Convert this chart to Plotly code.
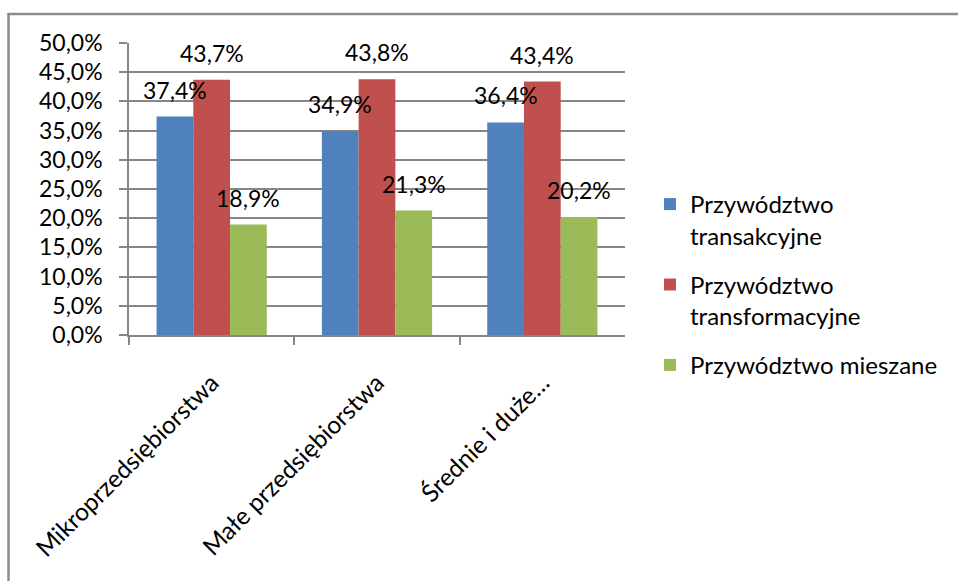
import plotly.graph_objects as go

categories = ["Mikroprzedsiębiorstwa", "Małe przedsiębiorstwa", "Średnie i duże…"]
series_names = [
    "Przywództwo<br>transakcyjne",
    "Przywództwo<br>transformacyjne",
    "Przywództwo mieszane",
]
transakcyjne = [0.374, 0.349, 0.364]
transformacyjne = [0.437, 0.438, 0.434]
mieszane = [0.189, 0.213, 0.202]
colors = ["#4F81BD", "#C0504D", "#9BBB59"]

FONT = "Lato, Carlito, Calibri, sans-serif"
FS = 23
FS_X = 24.5
FS_LEG = 24

# figure size and plot-area box in pixels (left, right, top, bottom edges)
W, H = 958, 581
X0, X1, Y0, Y1 = 129, 625, 43, 335


def fx(p):
    return p / W


def fy(p):
    return 1 - p / H


fig = go.Figure()
all_series = [transakcyjne, transformacyjne, mieszane]
for k, (name, vals, col) in enumerate(zip(series_names, all_series, colors)):
    fig.add_trace(go.Bar(
        x=categories, y=vals, name=name, legendgroup=f"g{k}",
        marker=dict(color=col, line=dict(width=0)),
    ))

# data labels above each bar
cat_w = (X1 - X0) / len(categories)
bargap = 1 / 3
bar_w = cat_w * (1 - bargap) / 3
for i, vals in enumerate(all_series):
    for c, v in zip(categories, vals):
        fig.add_annotation(
            x=c, y=v, xref="x", yref="y",
            text=f"{v*100:.1f}%".replace(".", ","),
            showarrow=False, xshift=(i - 1) * bar_w, yshift=27,
            yanchor="middle", xanchor="center",
            font=dict(family=FONT, size=FS, color="#000000"),
        )

# chart frame: top and left edges
frame = dict(color="#8C8C8C", width=2.5)
fig.add_shape(type="line", xref="paper", yref="paper",
              x0=fx(7.5), x1=1, y0=fy(14), y1=fy(14), line=frame)
fig.add_shape(type="line", xref="paper", yref="paper",
              x0=fx(8.5), x1=fx(8.5), y0=fy(13), y1=0, line=frame)

grid = "#868686"
fig.update_layout(
    width=W, height=H,
    margin=dict(l=0, r=0, t=0, b=0, pad=0),
    paper_bgcolor="white", plot_bgcolor="white",
    separators=", ",
    barmode="group", bargap=bargap, bargroupgap=0,
    font=dict(family=FONT, size=FS, color="#000000"),
    showlegend=True,
    legend=dict(
        x=fx(650), y=fy(182), xanchor="left", yanchor="top",
        font=dict(family=FONT, size=FS_LEG, color="#000000"),
        valign="top", tracegroupgap=15, itemwidth=30,
        bgcolor="rgba(0,0,0,0)",
    ),
    xaxis=dict(
        domain=[fx(X0), fx(X1)],
        type="category", tickson="boundaries", ticks="outside", ticklen=8,
        tickcolor=grid, tickwidth=1.5, tickangle=-45,
        showline=True, linecolor=grid, linewidth=1.5,
        showgrid=False, tickfont=dict(family=FONT, size=FS_X),
        ticklabelstandoff=22, automargin=False,
    ),
    yaxis=dict(
        domain=[fy(Y1), fy(Y0)],
        range=[0, 0.5], dtick=0.05, tickformat=".1%",
        ticks="outside", ticklen=8, tickcolor=grid, tickwidth=1.5,
        showline=True, linecolor=grid, linewidth=1.5,
        showgrid=True, gridcolor=grid, gridwidth=1.5,
        ticklabelstandoff=12, zeroline=False, automargin=False,
        tickfont=dict(family=FONT, size=FS),
    ),
)

fig.write_html("out.html", config={"displayModeBar": False})
